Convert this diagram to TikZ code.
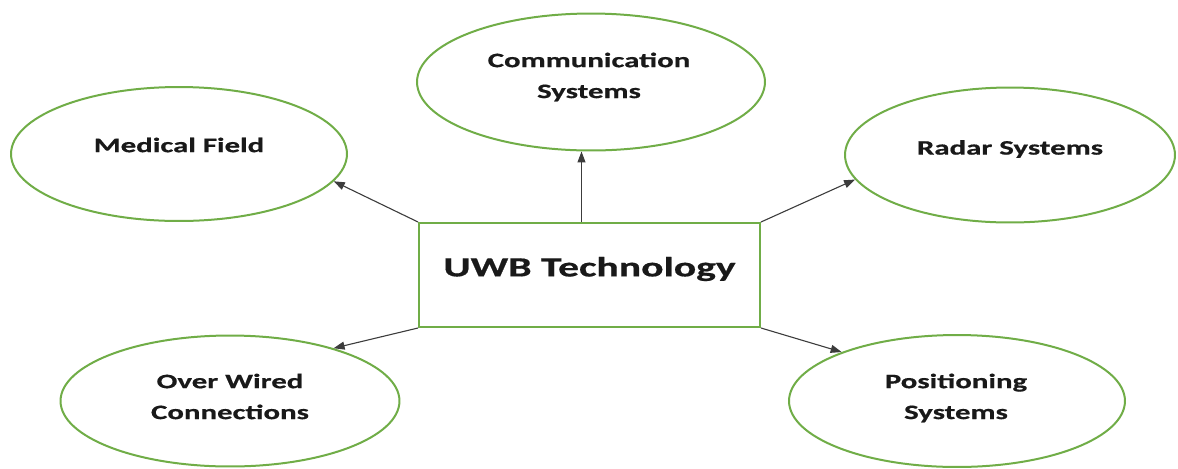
\documentclass[tikz,border=0pt]{standalone}
\usepackage{fontspec}
\usetikzlibrary{shapes.geometric,arrows.meta}
\newfontfamily\widecal[FakeStretch=1.5,FakeBold=0.6]{Carlito}
\definecolor{leafgreen}{RGB}{112,173,71}
\definecolor{inkgray}{RGB}{25,25,25}
\definecolor{wiregray}{RGB}{60,60,60}
\tikzset{
  oval/.style={ellipse, draw=leafgreen, line width=0.04cm, inner sep=0pt, fill=white},
  hub/.style={rectangle, draw=leafgreen, line width=0.04cm, inner sep=0pt, fill=white},
  ovaltext/.style={inner sep=0pt, align=center, text=inkgray,
    font=\widecal\bfseries\fontsize{11.7pt}{17.6pt}\selectfont},
  hubtext/.style={inner sep=0pt, text=inkgray,
    font=\widecal\bfseries\fontsize{15.8pt}{19pt}\selectfont},
  link/.style={draw=wiregray, line width=0.022cm,
    -{Triangle[length=0.22cm,width=0.16cm]}},
}
\begin{document}
\begin{tikzpicture}[x=0.02cm,y=-0.02cm]
  \useasboundingbox (0,0) rectangle (1178,468);

  % central box
  \node[hub, minimum width=6.82cm, minimum height=2.08cm] (uwb) at (589.5,275) {};
  \node[hubtext] (uwbtxt) at (589.5,269) {UWB Technology};

  % application ellipses
  \node[oval, minimum width=6.72cm, minimum height=2.68cm] (med) at (179,154) {};
  \node[ovaltext] (medtxt) at (179,145) {Medical Field};

  \node[oval, minimum width=6.96cm, minimum height=2.74cm] (com) at (591,82) {};
  \node[ovaltext] (comtxt) at (589,77) {Communication\\Systems};

  \node[oval, minimum width=6.6cm, minimum height=2.7cm] (rad) at (1010,155) {};
  \node[ovaltext] (radtxt) at (1010,149) {Radar Systems};

  \node[oval, minimum width=6.78cm, minimum height=2.62cm] (wir) at (230,401) {};
  \node[ovaltext] (wirtxt) at (230,396.5) {Over Wired\\Connections};

  \node[oval, minimum width=6.72cm, minimum height=2.64cm] (pos) at (957,401) {};
  \node[ovaltext] (postxt) at (956,398) {Positioning\\Systems};

  % connectors from the box corners
  \coordinate (comfoot) at ([xshift=-0.16cm]uwb.north);
  \draw[link] (uwb.north west) -- (med.-10);
  \draw[link] (comfoot) -- (comfoot |- com.south);
  \draw[link] (uwb.north east) -- (rad.189);
  \draw[link] (uwb.south west) -- (wir.27);
  \draw[link] (uwb.south east) -- (pos.157);
\end{tikzpicture}
\end{document}
